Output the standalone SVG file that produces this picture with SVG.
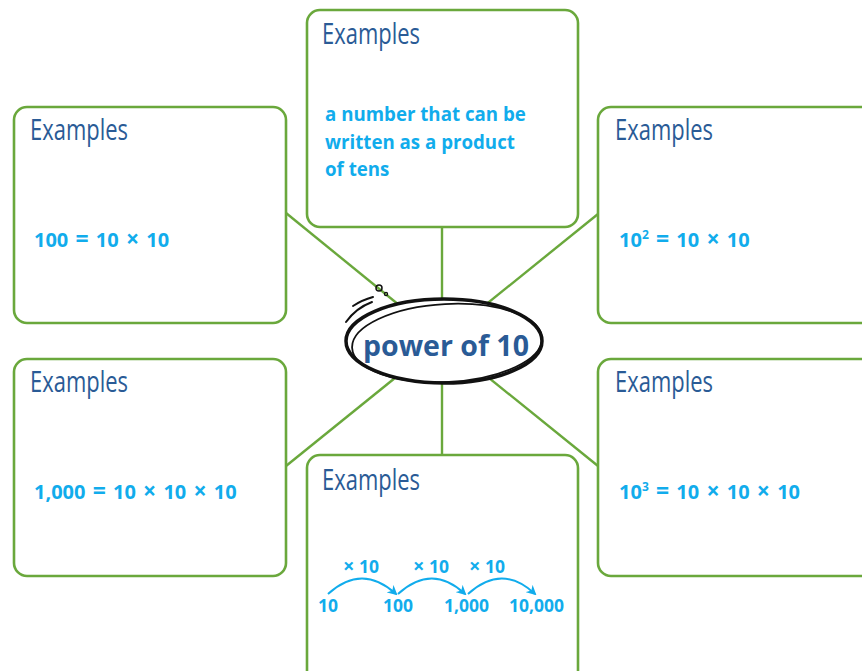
<svg xmlns="http://www.w3.org/2000/svg" width="862" height="671" viewBox="0 0 862 671">
<defs>
<style>
.box{fill:#fff;stroke:#6aa83c;stroke-width:2.6}
.conn{stroke:#6aa83c;stroke-width:2.4;fill:none}
.title{font-family:"Open Sans","Liberation Sans",sans-serif;font-size:29px;fill:#2a5b96}
.body{font-family:"Open Sans","Liberation Sans",sans-serif;font-size:18.7px;font-weight:bold;fill:#11acec}
.eq{font-family:"Open Sans","Liberation Sans",sans-serif;font-size:20px;font-weight:bold;fill:#11acec;word-spacing:2px}
.op{font-size:23px}
.sm{font-family:"Open Sans","Liberation Sans",sans-serif;font-size:17.5px;font-weight:bold;fill:#11acec}
.arc{stroke:#11acec;stroke-width:2;fill:none;marker-end:url(#ah)}
</style>
<marker id="ah" viewBox="0 0 10 10" refX="8" refY="5" markerWidth="5" markerHeight="5" orient="auto" markerUnits="strokeWidth">
<path d="M0,0 L10,5 L0,10 L3,5 Z" fill="#11acec"/>
</marker>
</defs>
<rect width="862" height="671" fill="#fff"/>
<g id="connectors">
<line class="conn" x1="442" y1="227" x2="442" y2="340"/>
<line class="conn" x1="442" y1="340" x2="442" y2="455"/>
<line class="conn" x1="286" y1="213" x2="442" y2="340"/>
<line class="conn" x1="598" y1="214" x2="442" y2="340"/>
<line class="conn" x1="286" y1="466" x2="442" y2="340"/>
<line class="conn" x1="598" y1="466" x2="442" y2="340"/>
</g>
<g id="box-top">
<rect class="box" x="307" y="10" width="271" height="217" rx="13"/>
<text class="title" x="322" y="44" textLength="98" lengthAdjust="spacingAndGlyphs">Examples</text>
<text class="body" x="325" y="121">a number that can be</text>
<text class="body" x="325" y="149">written as a product</text>
<text class="body" x="325" y="176">of tens</text>
</g>
<g id="box-top-left">
<rect class="box" x="14" y="107" width="272" height="216" rx="13"/>
<text class="title" x="30" y="140" textLength="98" lengthAdjust="spacingAndGlyphs">Examples</text>
<text class="eq" x="34" y="247">100 <tspan class="op">=</tspan> 10 <tspan class="op">×</tspan> 10</text>
</g>
<g id="box-top-right">
<rect class="box" x="598" y="107" width="280" height="216" rx="13"/>
<text class="title" x="615" y="140" textLength="98" lengthAdjust="spacingAndGlyphs">Examples</text>
<text class="eq" x="619" y="247">10<tspan font-size="12" dy="-8">2</tspan><tspan dy="8"> </tspan><tspan class="op">=</tspan> 10 <tspan class="op">×</tspan> 10</text>
</g>
<g id="box-bottom-left">
<rect class="box" x="14" y="359" width="272" height="217" rx="13"/>
<text class="title" x="30" y="392" textLength="98" lengthAdjust="spacingAndGlyphs">Examples</text>
<text class="eq" x="34" y="499">1,000 <tspan class="op">=</tspan> 10 <tspan class="op">×</tspan> 10 <tspan class="op">×</tspan> 10</text>
</g>
<g id="box-bottom-right">
<rect class="box" x="598" y="359" width="280" height="217" rx="13"/>
<text class="title" x="615" y="392" textLength="98" lengthAdjust="spacingAndGlyphs">Examples</text>
<text class="eq" x="619" y="499">10<tspan font-size="12" dy="-8">3</tspan><tspan dy="8"> </tspan><tspan class="op">=</tspan> 10 <tspan class="op">×</tspan> 10 <tspan class="op">×</tspan> 10</text>
</g>
<g id="box-bottom">
<rect class="box" x="307" y="455" width="271" height="240" rx="13"/>
<text class="title" x="322" y="490" textLength="98" lengthAdjust="spacingAndGlyphs">Examples</text>
<text class="sm" x="343" y="573"><tspan font-size="20">×</tspan> 10</text>
<text class="sm" x="413" y="573"><tspan font-size="20">×</tspan> 10</text>
<text class="sm" x="469" y="573"><tspan font-size="20">×</tspan> 10</text>
<path class="arc" d="M328,594 Q362,563 396,594"/>
<path class="arc" d="M398,594 Q432,563 465,594"/>
<path class="arc" d="M468,594 Q502,563 535,594"/>
<text class="sm" x="318" y="612">10</text>
<text class="sm" x="383" y="612">100</text>
<text class="sm" x="444" y="612">1,000</text>
<text class="sm" x="509" y="612">10,000</text>
</g>
<g id="center">
<ellipse cx="444" cy="341" rx="98" ry="42" fill="#fff" stroke="#111" stroke-width="3.5"/>
<ellipse cx="447" cy="343" rx="95" ry="39" fill="none" stroke="#111" stroke-width="1.8" transform="rotate(-3 447 343)"/>
<path d="M353,306 Q362,300 373,297" fill="none" stroke="#111" stroke-width="2" stroke-linecap="round"/>
<path d="M346,322 Q356,308 372,302" fill="none" stroke="#111" stroke-width="2" stroke-linecap="round"/>
<circle cx="379" cy="288" r="3" fill="none" stroke="#111" stroke-width="1.5"/>
<circle cx="386" cy="294" r="1.6" fill="none" stroke="#111" stroke-width="1.2"/>
<text x="446" y="356" text-anchor="middle" font-family="Open Sans, Liberation Sans, sans-serif" font-weight="bold" font-size="28.5" fill="#2a5b96">power of 10</text>
</g>
</svg>
